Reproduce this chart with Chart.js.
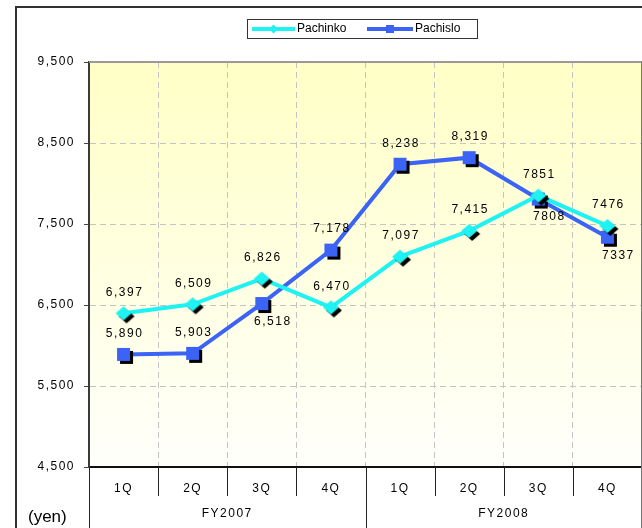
<!DOCTYPE html>
<html>
<head>
<meta charset="utf-8">
<script src="https://cdn.jsdelivr.net/npm/chart.js@4/dist/chart.umd.min.js"></script>
<style>
  html, body { margin: 0; padding: 0; background: #ffffff; }
  canvas { display: block; }
</style>
</head>
<body>
<canvas id="chart" width="642" height="528"></canvas>
<script>
// Average revenue per machine by quarter
const quarters = ['1Q', '2Q', '3Q', '4Q', '1Q', '2Q', '3Q', '4Q'];
const fiscalYears = ['FY2007', 'FY2008'];
const quartersPerYear = 4;
const pachinko = [6397, 6509, 6826, 6470, 7097, 7415, 7851, 7476];
const pachislo = [5890, 5903, 6518, 7178, 8238, 8319, 7808, 7337];
const yTicks = [4500, 5500, 6500, 7500, 8500, 9500];
const unitLabel = '(yen)';
// value labels for the last two quarters are printed without a thousands separator
const groupedDigits = [true, true, true, true, true, true, false, false];
const pachisloLabelBelow = [false, false, true, false, false, false, true, true];

const FONT = '"Liberation Sans", Arial, sans-serif';
const TEXT = '#000000';
const CYAN = '#1EF2F2';
const BLUE = '#3B63F5';

// marker with a hard black drop shadow, used as a point style image
function makeMarker(shape, color, hw, hh) {
  const off = 3;
  const w = Math.ceil(2 * (hw + off) + 2), h = Math.ceil(2 * (hh + off) + 2);
  const c = document.createElement('canvas');
  c.width = w; c.height = h;
  const g = c.getContext('2d');
  const draw = (cx, cy, fill) => {
    g.fillStyle = fill;
    g.beginPath();
    if (shape === 'diamond') {
      g.moveTo(cx, cy - hh); g.lineTo(cx + hw, cy); g.lineTo(cx, cy + hh); g.lineTo(cx - hw, cy);
      g.closePath();
    } else {
      g.rect(cx - hw, cy - hh, hw * 2, hh * 2);
    }
    g.fill();
  };
  draw(w / 2 + off, h / 2 + off, '#000000');
  draw(w / 2, h / 2, color);
  return c;
}

const chartBackground = {
  id: 'chartBackground',
  beforeDraw(chart) {
    const { ctx, chartArea: a } = chart;
    ctx.save();
    const grad = ctx.createLinearGradient(0, a.top, 0, a.bottom);
    grad.addColorStop(0, '#FFFFC6');
    grad.addColorStop(1, '#FFFFFB');
    ctx.fillStyle = grad;
    ctx.fillRect(a.left, a.top, a.right - a.left, a.bottom - a.top);
    ctx.restore();
    ctx.letterSpacing = '1.5px';
  },
  beforeDatasetsDraw(chart) {
    const { ctx, chartArea: a } = chart;
    ctx.save();
    ctx.strokeStyle = '#9a9a9a';
    ctx.lineWidth = 2;
    ctx.beginPath();
    ctx.moveTo(a.left, a.top);
    ctx.lineTo(a.right, a.top);
    ctx.stroke();
    ctx.restore();
  }
};

const pointLabels = {
  id: 'pointLabels',
  afterDatasetsDraw(chart) {
    const ctx = chart.ctx;
    ctx.save();
    ctx.letterSpacing = '1.5px';
    ctx.font = '12px ' + FONT;
    ctx.fillStyle = TEXT;
    ctx.textAlign = 'center';
    ctx.textBaseline = 'middle';
    chart.data.datasets.forEach((ds, di) => {
      const meta = chart.getDatasetMeta(di);
      meta.data.forEach((pt, i) => {
        const v = ds.data[i];
        const text = groupedDigits[i] ? v.toLocaleString('en-US') : String(v);
        const below = ds.labelBelow ? ds.labelBelow[i] : false;
        ctx.fillText(text, pt.x + (below ? 11 : 1), pt.y + (below ? 18 : -21));
      });
    });
    ctx.restore();
  }
};

const frameAndGroups = {
  id: 'frameAndGroups',
  afterDraw(chart) {
    const { ctx, chartArea: a } = chart;
    const x = chart.scales.x;
    const half = (x.getPixelForValue(1) - x.getPixelForValue(0)) / 2;
    ctx.save();
    ctx.letterSpacing = '1.5px';

    // category separators below the axis
    ctx.strokeStyle = '#222222';
    ctx.lineWidth = 1;
    for (let i = 0; i < quarters.length; i++) {
      const px = Math.round(x.getPixelForValue(i) - half) + 0.5;
      const long = i % quartersPerYear === 0;
      ctx.beginPath();
      ctx.moveTo(px, a.bottom);
      ctx.lineTo(px, long ? 528 : 496);
      ctx.stroke();
    }
    // right edge of the plot, running down through the label rows
    const rx = Math.round(x.getPixelForValue(quarters.length - 1) + half) - 0.5;
    ctx.strokeStyle = '#777777';
    ctx.beginPath();
    ctx.moveTo(rx, a.top);
    ctx.lineTo(rx, 528);
    ctx.stroke();

    // fiscal-year group labels
    ctx.font = '12px ' + FONT;
    ctx.fillStyle = TEXT;
    ctx.textAlign = 'center';
    ctx.textBaseline = 'middle';
    fiscalYears.forEach((fy, g) => {
      const first = x.getPixelForValue(g * quartersPerYear) - half;
      const last = x.getPixelForValue(g * quartersPerYear + quartersPerYear - 1) + half;
      ctx.fillText(fy, (first + last) / 2, 514);
    });

    // unit label
    ctx.letterSpacing = '0px';
    ctx.font = '17px ' + FONT;
    ctx.textAlign = 'left';
    ctx.fillText(unitLabel, 28, 517);

    // outer frame (left and top edges)
    ctx.strokeStyle = '#333333';
    ctx.lineWidth = 2;
    ctx.beginPath();
    ctx.moveTo(16, 528);
    ctx.lineTo(16, 7);
    ctx.lineTo(642, 7);
    ctx.stroke();

    // legend
    const lx = 247, ly = 19, lw = 230, lh = 19;
    ctx.fillStyle = '#ffffff';
    ctx.fillRect(lx, ly, lw, lh);
    ctx.strokeStyle = '#333333';
    ctx.lineWidth = 1;
    ctx.strokeRect(lx + 0.5, ly + 0.5, lw, lh);
    const cy = ly + lh / 2 + 0.5;
    const entries = [
      { x0: 252, x1: 295, tx: 297, shape: 'diamond' },
      { x0: 367, x1: 413, tx: 415, shape: 'square' }
    ];
    chart.data.datasets.forEach((ds, di) => {
      const e = entries[di];
      ctx.strokeStyle = ds.borderColor;
      ctx.lineWidth = 4;
      ctx.beginPath();
      ctx.moveTo(e.x0, cy);
      ctx.lineTo(e.x1, cy);
      ctx.stroke();
      const mx = (e.x0 + e.x1) / 2;
      ctx.fillStyle = ds.borderColor;
      ctx.beginPath();
      if (e.shape === 'diamond') {
        ctx.moveTo(mx, cy - 4.5); ctx.lineTo(mx + 4.5, cy); ctx.lineTo(mx, cy + 4.5); ctx.lineTo(mx - 4.5, cy);
        ctx.closePath();
      } else {
        ctx.rect(mx - 4, cy - 4, 8, 8);
      }
      ctx.fill();
      ctx.fillStyle = TEXT;
      ctx.font = '12px ' + FONT;
      ctx.textAlign = 'left';
      ctx.textBaseline = 'middle';
      ctx.fillText(ds.label, e.tx, cy);
    });
    ctx.restore();
  }
};

new Chart(document.getElementById('chart'), {
  type: 'line',
  data: {
    labels: quarters,
    datasets: [
      {
        label: 'Pachinko',
        data: pachinko,
        borderColor: CYAN,
        backgroundColor: CYAN,
        borderWidth: 4,
        tension: 0,
        pointStyle: makeMarker('diamond', CYAN, 8, 7),
        pointRadius: 8,
        pointHoverRadius: 8
      },
      {
        label: 'Pachislo',
        data: pachislo,
        borderColor: BLUE,
        backgroundColor: BLUE,
        borderWidth: 4,
        tension: 0,
        pointStyle: makeMarker('square', BLUE, 6.5, 6.5),
        pointRadius: 8,
        pointHoverRadius: 8,
        labelBelow: pachisloLabelBelow
      }
    ]
  },
  options: {
    responsive: false,
    devicePixelRatio: 1,
    animation: false,
    events: [],
    layout: { autoPadding: false, padding: { top: 62, left: 0, right: 0, bottom: 0 } },
    plugins: {
      legend: { display: false },
      tooltip: { enabled: false },
      title: { display: false }
    },
    scales: {
      x: {
        type: 'category',
        offset: true,
        grid: {
          offset: true,
          color: '#c4c4c4',
          lineWidth: 1,
          drawTicks: false
        },
        border: { display: true, color: '#111111', width: 2, dash: [6, 4] },
        ticks: {
          color: TEXT,
          font: { family: FONT, size: 12 },
          padding: 14,
          maxRotation: 0,
          autoSkip: false
        },
        afterFit(scale) {
          scale.height = 61;
          scale.paddingLeft = 0;
          scale.paddingRight = 0;
        }
      },
      y: {
        type: 'linear',
        min: yTicks[0],
        max: yTicks[yTicks.length - 1],
        afterBuildTicks(scale) { scale.ticks = yTicks.map(v => ({ value: v })); },
        grid: {
          color: '#c4c4c4',
          lineWidth: 1,
          drawTicks: true,
          tickLength: 5,
          tickColor: '#444444',
          tickWidth: 1
        },
        border: { display: true, color: '#3a3a3a', width: 2, dash: [6, 4] },
        ticks: {
          color: TEXT,
          font: { family: FONT, size: 12 },
          padding: 9,
          callback: v => Number(v).toLocaleString('en-US')
        },
        afterFit(scale) {
          scale.width = 89;
          scale.paddingTop = 0;
          scale.paddingBottom = 0;
        }
      }
    }
  },
  plugins: [chartBackground, pointLabels, frameAndGroups]
});
</script>
</body>
</html>
